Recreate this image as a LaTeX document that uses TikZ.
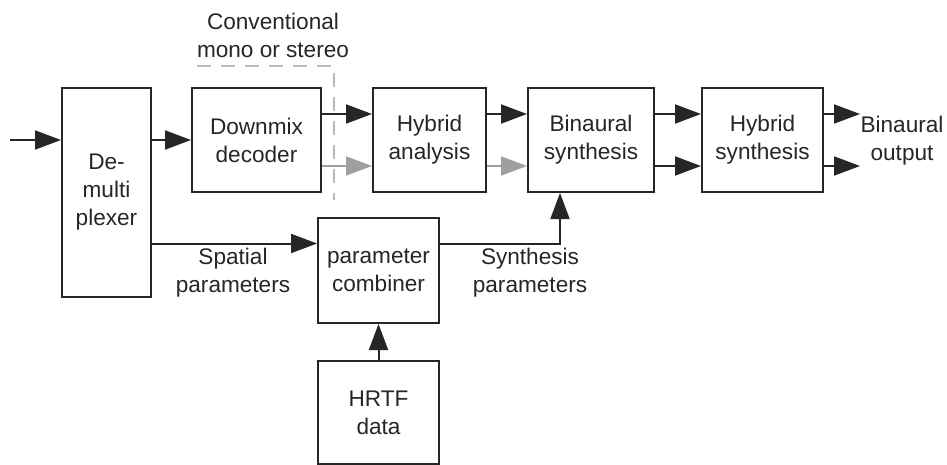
\documentclass[tikz,border=0pt]{standalone}
\usepackage{fontspec}
\setmainfont{Liberation Sans}
\usetikzlibrary{positioning,arrows.meta}

\tikzset{
  block/.style={draw,line width=1pt,inner sep=0pt,align=center,
                minimum width=#1,minimum height=52pt},
  block/.default=60pt,
  sig/.style={line width=1pt,-{Triangle[length=13pt,width=9.5pt]}},
  graysig/.style={sig,gray!75},
  lbl/.style={align=center,inner sep=0pt}
}

\begin{document}
\begin{tikzpicture}[x=0.5pt,y=-0.5pt,font=\fontsize{11.3pt}{14pt}\selectfont,
                    color=black!85]
\useasboundingbox (0,0) rectangle (947,465);

% processing chain
\node[block=44.5pt,minimum height=104.5pt] (demux) at (106.5,192.5) {De-\\multi\\plexer};
\node[block=64.5pt] (downmix) at (256.5,140) {Downmix\\decoder};
\node[block=56.5pt] (hana) at (429.5,140) {Hybrid\\analysis};
\node[block=63pt] (binsyn) at (591,140) {Binaural\\synthesis};
\node[block=60.5pt] (hybsyn) at (762.5,140) {Hybrid\\synthesis};
\node[block=60.5pt,minimum height=52.5pt] (comb) at (378.5,270.5) {parameter\\combiner};
\node[block=60.5pt,minimum height=51.5pt] (hrtf) at (378.5,412.5) {HRTF\\data};

% free ends
\coordinate (in) at (10,140);
\coordinate (out1) at (860,114);
\coordinate (out2) at (860,166);

% labels
\node[lbl] (conv) at (273,35) {Conventional\\mono or stereo};
\node[lbl] (outlbl) at (902,141) {Binaural\\output};
\node[lbl] (spat) at (233,273) {Spatial\\parameters};
\node[lbl] (synp) at (530,273) {Synthesis\\parameters};

% boundary of the conventional part
\coordinate (bl) at (197,66);
\coordinate (br) at (334,200);
\draw[gray!55,line width=0.8pt,dash pattern=on 7pt off 5pt] (bl) -| (br);

% signals
\draw[sig] (in) -- (in -| demux.west);
\draw[sig] (demux.east |- downmix) -- (downmix.west);
\draw[sig] ([yshift=13pt]downmix.east) -- ([yshift=13pt]hana.west);
\draw[graysig] ([yshift=-13pt]downmix.east) -- ([yshift=-13pt]hana.west);
\draw[sig] ([yshift=13pt]hana.east) -- ([yshift=13pt]binsyn.west);
\draw[graysig] ([yshift=-13pt]hana.east) -- ([yshift=-13pt]binsyn.west);
\draw[sig] ([yshift=13pt]binsyn.east) -- ([yshift=13pt]hybsyn.west);
\draw[sig] ([yshift=-13pt]binsyn.east) -- ([yshift=-13pt]hybsyn.west);
\draw[sig] (out1 -| hybsyn.east) -- (out1);
\draw[sig] (out2 -| hybsyn.east) -- (out2);

% parameters
\draw[sig] ([yshift=13.5pt]comb.west -| demux.east) -- ([yshift=13.5pt]comb.west);
\draw[sig] ([yshift=13.5pt]comb.east) -| ([xshift=-15.5pt]binsyn.south);
\draw[sig] (hrtf) -- (comb);
\end{tikzpicture}
\end{document}
